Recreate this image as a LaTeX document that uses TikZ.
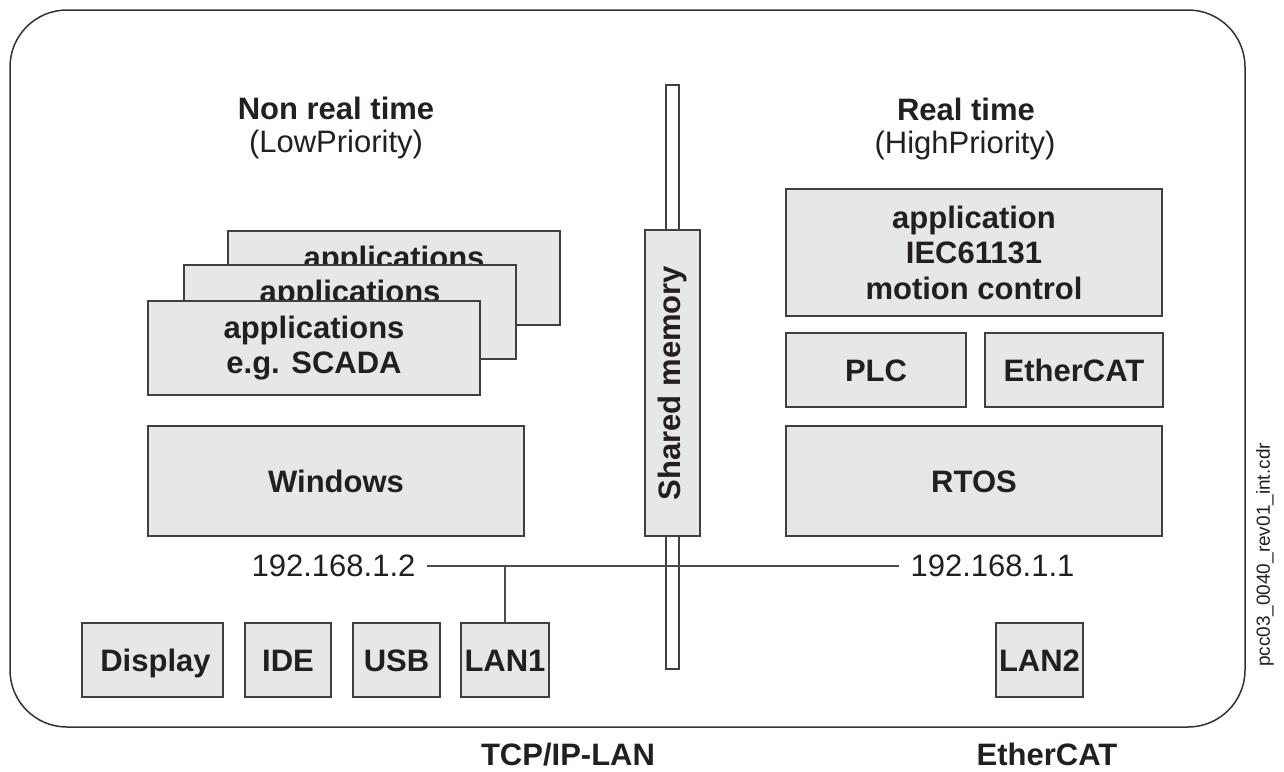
\documentclass[tikz,border=0pt]{standalone}
\usepackage{fontspec}
\setmainfont{Liberation Sans}
\usetikzlibrary{positioning}
\definecolor{boxgray}{HTML}{E6E7E8}
\definecolor{ink}{HTML}{231F20}

\begin{document}
\begin{tikzpicture}[x=1pt,y=-1pt,thick,
    main node/.style={rectangle,draw=black!75,line width=1.3pt,fill=boxgray,align=center,inner sep=0pt,text=ink,font=\fontsize{31}{35.5}\selectfont\bfseries},
    one line/.style={main node,text height=22pt,text depth=0pt},
    head node/.style={anchor=base,inner sep=0pt,text=ink,font=\fontsize{31}{35.5}\selectfont\bfseries},
    sub node/.style={anchor=base,inner sep=0pt,text=ink,font=\fontsize{31}{35.5}\selectfont},
    ip node/.style={inner sep=11pt,text=ink,font=\fontsize{31}{35.5}\selectfont},
    link/.style={draw=black!70,line width=1.3pt}]

    \useasboundingbox (0,0) rectangle (1284,771);
    \draw[draw=black!80,line width=1.5pt,rounded corners=57pt] (10,10) rectangle (1245,727);

    % left side
    \node[head node] (nrt) at (336,119) {Non real time};
    \node[sub node] (lowp) at (336,152.5) {(LowPriority)};
    \node[main node,minimum width=332pt,minimum height=94pt] (app3) at (394,278) {applications\\\phantom{e.g. SCADA}};
    \node[main node,minimum width=332pt,minimum height=94pt] (app2) at (350,312) {applications\\\phantom{e.g. SCADA}};
    \node[main node,minimum width=332pt,minimum height=94pt] (app1) at (314,348) {applications\\e.g. SCADA};
    \node[one line,minimum width=376pt,minimum height=110pt] (win) at (336,481) {Windows};

    % shared memory
    \node[draw=black!75,line width=1.3pt,fill=white,inner sep=0pt,minimum width=13pt,minimum height=584pt] (bar) at (672.5,377) {};
    \node[main node,rotate=90,minimum width=306pt,minimum height=55pt] (shm) at (672.5,383) {Shared memory};

    % right side
    \node[head node] (rt) at (966,120) {Real time};
    \node[sub node] (highp) at (965,153.5) {(HighPriority)};
    \node[main node,minimum width=376pt,minimum height=127pt] (rtapp) at (974,252.5) {application\\IEC61131\\motion control};
    \node[one line,minimum width=180pt,minimum height=74pt] (plc) at (876,370) {PLC};
    \node[one line,minimum width=178pt,minimum height=74pt] (ecat) at (1074,370) {EtherCAT};
    \node[one line,minimum width=376pt,minimum height=110pt] (rtos) at (974,481) {RTOS};

    % network
    \node[ip node] (ip2) at (333.5,566) {192.168.1.2};
    \node[ip node] (ip1) at (992.5,566) {192.168.1.1};
    \node[one line,minimum width=141pt,minimum height=74pt] (disp) at (152.5,660) {\hspace{6pt}Display};
    \node[one line,minimum width=86pt,minimum height=74pt] (ide) at (288,660) {IDE};
    \node[one line,minimum width=87pt,minimum height=74pt] (usb) at (396.5,660) {USB};
    \node[one line,minimum width=88pt,minimum height=74pt] (lan1) at (505,660) {LAN1};
    \node[one line,minimum width=87pt,minimum height=74pt] (lan2) at (1039.5,660) {LAN2};

    \path[link]
    (ip2) edge (ip1)
    (lan1.north) edge (lan1.north |- ip2.east)
    ;

    \node[head node] (tcp) at (568,765) {TCP/IP-LAN};
    \node[head node] (ecatbus) at (1047,765) {EtherCAT};
    \node[rotate=90,inner sep=0pt,text=ink,font=\fontsize{19}{22}\selectfont] (fname) at (1265,555) {pcc03\_0040\_rev01\_int.cdr};

\end{tikzpicture}
\end{document}
